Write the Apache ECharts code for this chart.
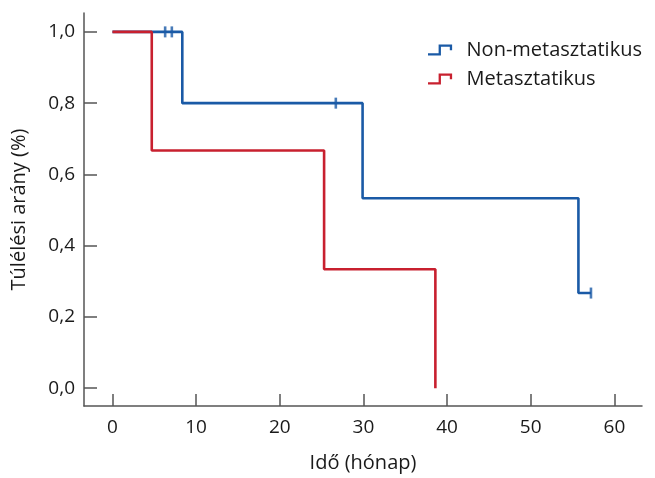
<!DOCTYPE html>
<html>
<head>
<meta charset="utf-8">
<script src="https://cdn.jsdelivr.net/npm/echarts@6/dist/echarts.min.js"></script>
<style>html,body{margin:0;padding:0;background:#fff;}#c{width:655px;height:478px;}</style>
</head>
<body>
<div id="c"></div>
<script>
const seriesNames = ['Non-metasztatikus', 'Metasztatikus'];
// Kaplan-Meier step points [month, survival]
const nonMetSteps = [[0, 1.0], [8.35, 0.8], [29.9, 0.533], [55.7, 0.267], [57.2, 0.267]];
const metSteps = [[0, 1.0], [4.7, 0.667], [25.3, 0.334], [38.6, 0.0]];
// censored observations
const nonMetCensored = [[6.3, 1.0], [7.1, 1.0], [26.7, 0.8], [57.2, 0.267]];
const xTicks = [0, 10, 20, 30, 40, 50, 60];
const yTicks = [0, 0.2, 0.4, 0.6, 0.8, 1.0];
const colors = ['#1a5aa6', '#c8202f'];

const font = '"Open Sans", Lato, sans-serif';
const textColor = '#1a1a1a';
const axisColor = '#555555';

const iconPath = 'path://M0,9 L11,9 L11,0 L25,0 L25,6 L22.6,6 L22.6,2.4 L13.4,2.4 L13.4,11.4 L0,11.4 Z';

const chart = echarts.init(document.getElementById('c'), null, {renderer: 'canvas'});
chart.setOption({
  animation: false,
  backgroundColor: '#fff',
  grid: {left: 84, right: 13, top: 13, bottom: 69, containLabel: false},
  legend: {
    data: seriesNames.map((n, i) => ({name: n, icon: iconPath, itemStyle: {color: colors[i]}})),
    orient: 'vertical',
    left: 428, top: 40, padding: 0,
    itemWidth: 25, itemHeight: 11, itemGap: 9,
    textStyle: {fontFamily: font, fontSize: 20, color: textColor, padding: [0, 0, 0, 9]}
  },
  xAxis: {
    type: 'value', min: -3.4, max: 63.3,
    name: 'Idő (hónap)', nameLocation: 'middle', nameGap: 47,
    nameTextStyle: {fontFamily: font, fontSize: 20, color: textColor},
    axisLine: {show: true, onZero: false, lineStyle: {color: axisColor, width: 1.5}},
    axisTick: {show: true, inside: true, length: 12, customValues: xTicks, lineStyle: {color: axisColor, width: 1.5}},
    axisLabel: {customValues: xTicks, margin: 12, fontFamily: font, fontSize: 19, color: textColor},
    splitLine: {show: false}
  },
  yAxis: {
    type: 'value', min: -0.05, max: 1.053,
    name: 'Túlélési arány (%)', nameLocation: 'middle', nameGap: 55,
    nameTextStyle: {fontFamily: font, fontSize: 20, color: textColor},
    axisLine: {show: true, onZero: false, lineStyle: {color: axisColor, width: 1.5}},
    axisTick: {show: true, inside: true, length: 13, customValues: yTicks, lineStyle: {color: axisColor, width: 1.5}},
    axisLabel: {customValues: yTicks, margin: 9, fontFamily: font, fontSize: 19, color: textColor,
      formatter: v => v.toFixed(1).replace('.', ',')},
    splitLine: {show: false}
  },
  series: [
    {name: seriesNames[0], type: 'line', step: 'end', data: nonMetSteps, showSymbol: false,
      lineStyle: {color: colors[0], width: 2.6}, itemStyle: {color: colors[0]}, z: 2},
    {name: seriesNames[0], type: 'scatter', data: nonMetCensored, symbol: 'rect', symbolSize: [2.6, 11],
      itemStyle: {color: colors[0]}, z: 3},
    {name: seriesNames[1], type: 'line', step: 'end', data: metSteps, showSymbol: false,
      lineStyle: {color: colors[1], width: 2.6}, itemStyle: {color: colors[1]}, z: 4}
  ]
});
</script>
</body>
</html>
